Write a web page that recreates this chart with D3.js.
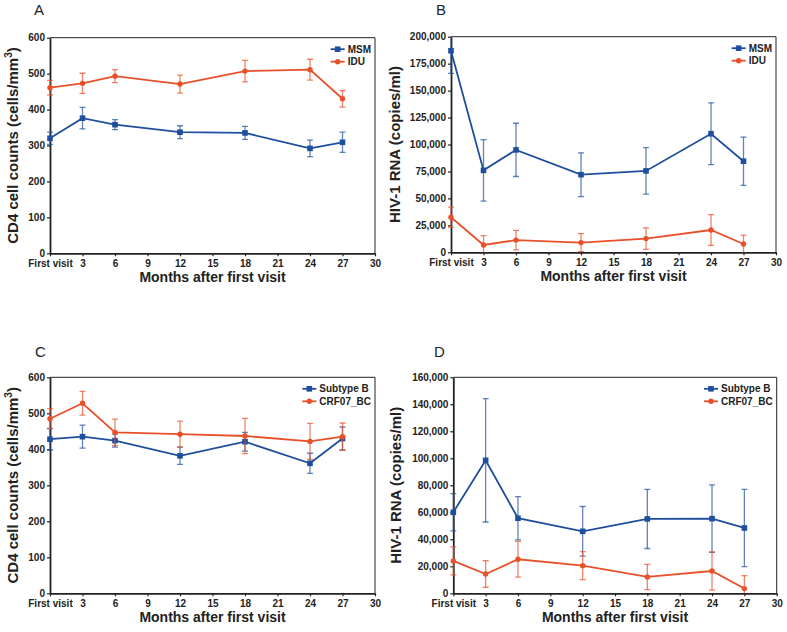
<!DOCTYPE html>
<html><head><meta charset="utf-8">
<script src="https://cdn.jsdelivr.net/npm/d3@7"></script>
<style>body{margin:0;background:#fff} svg{display:block}</style>
</head><body><svg id="c" width="787" height="632"></svg>
<script>
// ---- data ----
const months = [0, 3, 6, 12, 18, 24, 27];
const xTickValues = [0, 3, 6, 9, 12, 15, 18, 21, 24, 27, 30];
const xTickLabels = ["First visit", "3", "6", "9", "12", "15", "18", "21", "24", "27", "30"];
const cd4Ticks = [0, 100, 200, 300, 400, 500, 600];
const rnaTicksB = [0, 25000, 50000, 75000, 100000, 125000, 150000, 175000, 200000];
const rnaTicksD = [0, 20000, 40000, 60000, 80000, 100000, 120000, 140000, 160000];

// Panel A: CD4 by route
const msmCD4 = [320, 376, 358, 337, 335, 292, 309];
const msmCD4Err = [17, 30, 14, 18, 18, 23, 28];
const iduCD4 = [461, 473, 493, 471, 507, 511, 430];
const iduCD4Err = [20, 28, 18, 25, 30, 29, 23];
// Panel B: RNA by route
const msmRNA = [187000, 76000, 95000, 72000, 75500, 110000, 84500];
const msmRNAErr = [21000, 28500, 24700, 20300, 21600, 28700, 22400];
const iduRNA = [32500, 6800, 11300, 9000, 12700, 20700, 7700];
const iduRNAErr = [9400, 8600, 9000, 8400, 10000, 14300, 8300];
// Panel C: CD4 by subtype
const subBCD4 = [428, 435, 424, 382, 421, 361, 430];
const subBCD4Err = [30, 32, 18, 24, 26, 28, 32];
const crfCD4 = [485, 528, 447, 442, 437, 422, 435];
const crfCD4Err = [28, 33, 37, 36, 49, 50, 38];
// Panel D: RNA by subtype
const subBRNA = [60000, 98500, 55600, 45900, 55100, 55300, 48400];
const subBRNAErr = [13800, 45700, 16000, 18400, 21900, 25000, 28600];
const crfRNA = [24000, 14300, 25200, 20500, 12100, 16500, 3500];
const crfRNAErr = [10400, 9800, 13200, 10300, 9400, 14200, 9600];

// ---- styles ----
const BLUE = "#1f4e9e", ORANGE = "#e8502a";
const FONT = "Arial, 'Liberation Sans', Helvetica, sans-serif";

const svg = d3.select("#c");

const panels = [
  {letter: "A", lx: 34, ly: 15, x0: 50, x1: 375, y0: 37.7, y1: 253.3, ticks: cd4Ticks, yl: "cd4", ylx: 13,
   s: [{name: "MSM", v: msmCD4, e: msmCD4Err, c: BLUE, m: "sq"}, {name: "IDU", v: iduCD4, e: iduCD4Err, c: ORANGE, m: "ci"}]},
  {letter: "B", lx: 436, ly: 15, x0: 451, x1: 776, y0: 36.7, y1: 252.3, ticks: rnaTicksB, yl: "rna", ylx: 395,
   s: [{name: "MSM", v: msmRNA, e: msmRNAErr, c: BLUE, m: "sq"}, {name: "IDU", v: iduRNA, e: iduRNAErr, c: ORANGE, m: "ci"}]},
  {letter: "C", lx: 35, ly: 357, x0: 50, x1: 375, y0: 377.3, y1: 593.3, ticks: cd4Ticks, yl: "cd4", ylx: 13,
   s: [{name: "Subtype B", v: subBCD4, e: subBCD4Err, c: BLUE, m: "sq"}, {name: "CRF07_BC", v: crfCD4, e: crfCD4Err, c: ORANGE, m: "ci"}]},
  {letter: "D", lx: 434, ly: 357, x0: 453.3, x1: 776.7, y0: 377.3, y1: 593.3, ticks: rnaTicksD, yl: "rna", ylx: 396,
   s: [{name: "Subtype B", v: subBRNA, e: subBRNAErr, c: BLUE, m: "sq"}, {name: "CRF07_BC", v: crfRNA, e: crfRNAErr, c: ORANGE, m: "ci"}]}
];

function marker(g, type, x, y, color) {
  if (type === "sq") {
    g.append("rect").attr("x", x - 2.8).attr("y", y - 2.8).attr("width", 5.6).attr("height", 5.6).attr("fill", color);
  } else {
    g.append("circle").attr("cx", x).attr("cy", y).attr("r", 2.7).attr("fill", color);
  }
}

panels.forEach((p, pi) => {
  const x = d3.scaleLinear().domain([0, 30]).range([p.x0, p.x1]);
  const yMax = p.ticks[p.ticks.length - 1];
  const y = d3.scaleLinear().domain([0, yMax]).range([p.y1, p.y0]);

  // panel letter
  svg.append("text").attr("x", p.lx).attr("y", p.ly).attr("font-family", FONT).attr("font-size", 15)
    .attr("fill", "#222").text(p.letter);

  // clip
  const cid = "clip" + pi;
  svg.append("clipPath").attr("id", cid).append("rect")
    .attr("x", p.x0 - 6).attr("y", p.y0).attr("width", p.x1 - p.x0 + 12).attr("height", p.y1 - p.y0);

  // top & right border
  svg.append("line").attr("x1", p.x0).attr("x2", p.x1).attr("y1", p.y0).attr("y2", p.y0).attr("stroke", "#222").attr("stroke-width", 1);
  svg.append("line").attr("x1", p.x1).attr("x2", p.x1).attr("y1", p.y0).attr("y2", p.y1).attr("stroke", "#222").attr("stroke-width", 1);

  // axes
  const fmt = d3.format(",");
  const ya = svg.append("g").attr("transform", `translate(${p.x0},0)`)
    .call(d3.axisLeft(y).tickValues(p.ticks).tickFormat(fmt).tickSize(3).tickSizeOuter(0).tickPadding(2));
  const xa = svg.append("g").attr("transform", `translate(0,${p.y1})`)
    .call(d3.axisBottom(x).tickValues(xTickValues).tickFormat((d, i) => xTickLabels[i]).tickSize(3).tickSizeOuter(0).tickPadding(4));
  [ya, xa].forEach(a => {
    a.select(".domain").attr("stroke", "#222").attr("stroke-width", 1.8);
    a.selectAll(".tick line").attr("stroke", "#222").attr("stroke-width", 1.2);
    a.selectAll(".tick text").attr("font-family", FONT).attr("font-size", 10).attr("font-weight", "bold").attr("fill", "#222");
  });

  // axis labels
  svg.append("text").attr("x", (p.x0 + p.x1) / 2).attr("y", p.y1 + 29).attr("text-anchor", "middle")
    .attr("font-family", FONT).attr("font-size", 14).attr("font-weight", "bold").attr("fill", "#222")
    .text("Months after first visit");
  const yt = svg.append("text").attr("transform", `translate(${p.ylx},${(p.y0 + p.y1) / 2}) rotate(-90)`)
    .attr("text-anchor", "middle").attr("dy", "0.36em")
    .attr("font-family", FONT).attr("font-size", 15).attr("font-weight", "bold").attr("fill", "#222");
  if (p.yl === "cd4") {
    yt.append("tspan").text("CD4 cell counts (cells/mm");
    yt.append("tspan").attr("dy", -6).attr("font-size", 10).text("3");
    yt.append("tspan").attr("dy", 6).text(")");
  } else {
    yt.text("HIV-1 RNA (copies/ml)");
  }

  // series
  const plot = svg.append("g");
  p.s.forEach(s => {
    const g = plot.append("g");
    const eb = g.append("g").attr("clip-path", `url(#${cid})`);
    months.forEach((m, i) => {
      const cx = x(m), lo = y(s.v[i] - s.e[i]), hi = y(s.v[i] + s.e[i]);
      eb.append("line").attr("x1", cx).attr("x2", cx).attr("y1", lo).attr("y2", hi)
        .attr("stroke", s.c).attr("stroke-opacity", 0.7).attr("stroke-width", 1.3);
      [lo, hi].forEach(yy => eb.append("line").attr("x1", cx - 3).attr("x2", cx + 3).attr("y1", yy).attr("y2", yy)
        .attr("stroke", s.c).attr("stroke-opacity", 0.7).attr("stroke-width", 1.3));
    });
    const line = d3.line().x((d, i) => x(months[i])).y(d => y(d));
    g.append("path").datum(s.v).attr("d", line).attr("fill", "none").attr("stroke", s.c).attr("stroke-width", 1.8);
    months.forEach((m, i) => marker(g, s.m, x(m), y(s.v[i]), s.c));
  });

  // legend
  const lg = svg.append("g");
  const texts = p.s.map((s, i) => lg.append("text").attr("y", p.y0 + 11.5 + i * 12.5).attr("dy", "0.35em")
    .attr("font-family", FONT).attr("font-size", 10).attr("font-weight", "bold").attr("fill", "#222").text(s.name));
  const maxW = d3.max(texts, t => t.node().getComputedTextLength());
  const tx = p.x1 - 4 - maxW;
  texts.forEach(t => t.attr("x", tx));
  p.s.forEach((s, i) => {
    const yy = p.y0 + 11.5 + i * 12.5;
    lg.append("line").attr("x1", tx - 17).attr("x2", tx - 3).attr("y1", yy).attr("y2", yy).attr("stroke", s.c).attr("stroke-width", 1.8);
    marker(lg, s.m, tx - 10, yy, s.c);
  });
});
</script></body></html>
